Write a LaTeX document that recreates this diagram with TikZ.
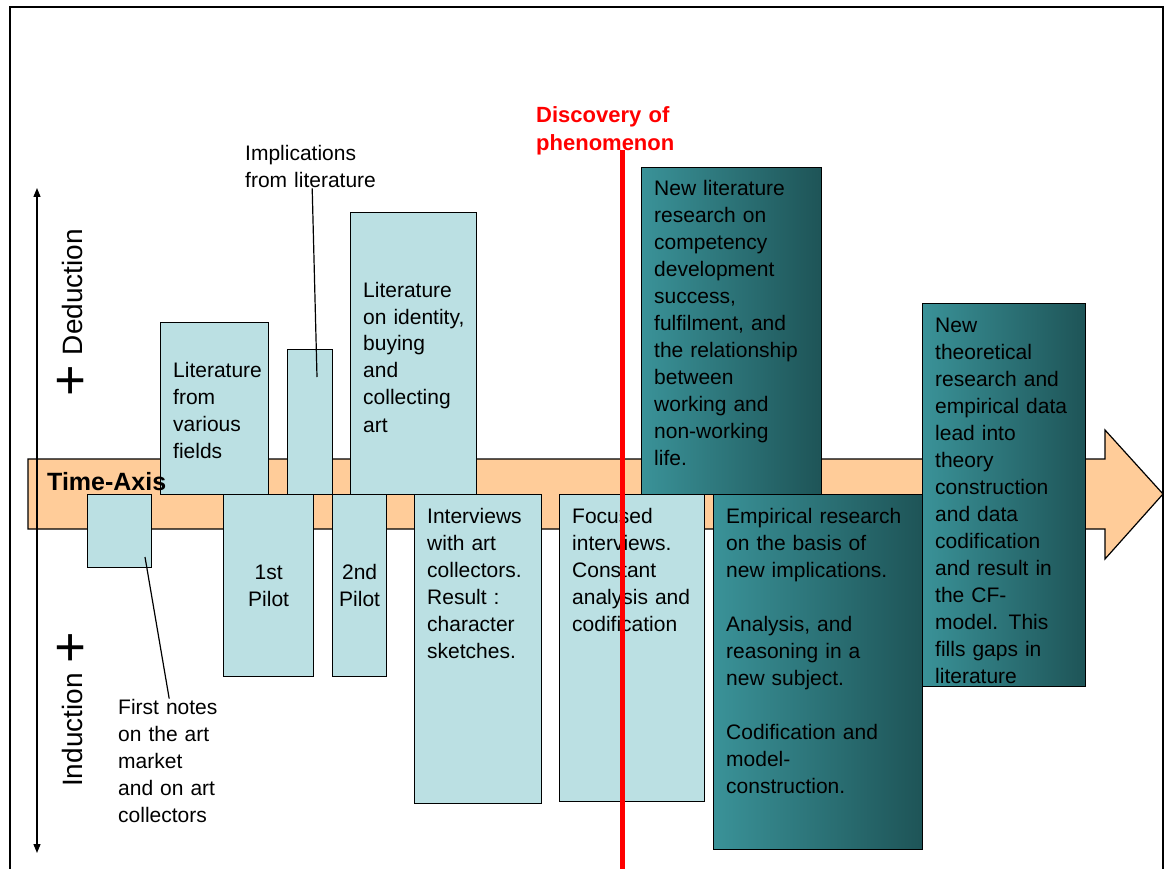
\documentclass[tikz,border=0pt]{standalone}
\usepackage{fontspec}
\setmainfont{Liberation Sans}
\usetikzlibrary{arrows.meta, positioning}
\definecolor{bandorange}{RGB}{255,204,153}
\definecolor{paleblue}{RGB}{187,224,227}
\definecolor{tealleft}{RGB}{58,146,152}
\definecolor{tealright}{RGB}{30,84,87}
\hyphenpenalty=10000

\begin{document}
\begin{tikzpicture}[
    x=1pt, y=-1pt,
    frame/.style={line width=1.3pt},
    band/.style={draw, fill=bandorange, line width=1.2pt},
    lbox/.style={rectangle, draw, fill=paleblue, line width=1.2pt, anchor=north west, inner sep=0pt},
    dbox/.style={rectangle, draw, left color=tealleft, right color=tealright, line width=1.2pt, anchor=north west, inner sep=0pt},
    txt/.style={anchor=base west, align=left, inner sep=0pt, text width=190pt, font=\fontsize{21}{27}\selectfont},
    pilot/.style={lbox, align=center, font=\fontsize{21}{27}\selectfont},
    axlbl/.style={rotate=90, inner sep=0pt, font=\fontsize{28}{32}\selectfont},
    plus/.style={rotate=90, inner sep=0pt, font=\fontsize{54}{54}\selectfont},
    axisarrow/.style={<->, >={Triangle[length=9pt, width=7pt]}, line width=1.3pt},
    pointer/.style={line width=1.2pt},
    redline/.style={red, line width=5pt}
]

\useasboundingbox (0,0) rectangle (1170,869);

% Frame
\draw[frame] (10,869) |- (1163,7) -- (1163,869);

% Time axis
\draw[band] (28,459) -- (1105,459) -- (1105,430) -- (1163,494) -- (1105,559) -- (1105,529) -- (28,529) -- cycle;

% Deduction / induction axis
\coordinate (axtop) at (37,188);
\coordinate (axbot) at (37,853);
\draw[axisarrow] (axbot) -- (axtop);
\node[axlbl] (ded) at (72,292) {Deduction};
\node[plus] (dedplus) at (73,381) {+};
\node[axlbl] (ind) at (72,730) {Induction};
\node[plus] (indplus) at (73,648) {+};

% Boxes
\node[lbox, minimum width=64pt, minimum height=73pt] (notesbox) at (87,494) {};
\node[lbox, minimum width=108pt, minimum height=172pt] (litfld) at (160,322) {};
\node[lbox, minimum width=45pt, minimum height=145pt] (implbox) at (287,349) {};
\node[pilot, minimum width=90pt, minimum height=182pt] (pilot1) at (223,494) {1st\\Pilot};
\node[pilot, minimum width=54pt, minimum height=182pt] (pilot2) at (332,494) {2nd\\Pilot};
\node[lbox, minimum width=126pt, minimum height=282pt] (litid) at (350,212) {};
\node[lbox, minimum width=127pt, minimum height=309pt] (intv) at (414,494) {};
\node[lbox, minimum width=145pt, minimum height=307pt] (focus) at (559,494) {};
\node[dbox, minimum width=180pt, minimum height=327pt] (newlit) at (641,167) {};
\node[dbox, minimum width=209pt, minimum height=355pt] (empir) at (713,494) {};
\node[dbox, minimum width=163pt, minimum height=383pt] (newtheo) at (922,303) {};

% Box texts
\node[txt] (litfld-t) at (173,377) {Literature\\from\\various\\fields};
\node[txt] (litid-t) at (363,297) {Literature\\on identity,\\buying\\and\\collecting\\art};
\node[txt] (intv-t) at (427,523) {Interviews\\with art\\collectors.\\Result :\\character\\sketches.};
\node[txt] (focus-t) at (572,523) {Focused\\interviews.\\Constant\\analysis and\\codification};
\node[txt] (newlit-t) at (654,196) {New literature\\research on\\competency\\development\\success,\\fulfilment, and\\the relationship\\between\\working and\\non-working\\life.};
\node[txt] (empir-t) at (726,523) {Empirical research\\on the basis of\\new implications.\\[27pt]Analysis, and\\reasoning in a\\new subject.\\[27pt]Codification and\\model-\\construction.};
\node[txt] (newtheo-t) at (935,332) {New\\theoretical\\research and\\empirical data\\lead into\\theory\\construction\\and data\\codification\\and result in\\the CF-\\model. This\\fills gaps in\\literature};

% Free notes and pointers
\node[txt, text width=134pt] (impl) at (245,161) {Implications\\from literature};
\node[txt, text width=102pt] (notes) at (118,714) {First notes\\on the art\\market\\and on art\\collectors};
\coordinate (implend) at (317,377);
\coordinate (notesptr) at (145,557);
\draw[pointer] (impl.south) -- (implend);
\draw[pointer] (notesptr) -- (notes.north);

\node[anchor=base west, inner sep=0pt, font=\fontsize{25}{30}\selectfont\bfseries] (timeaxis) at (47,490) {Time-Axis};

% Discovery
\node[txt, text=red, font=\fontsize{22}{28}\selectfont\bfseries] (discovery) at (536,123) {Discovery of\\phenomenon};
\coordinate (redtop) at (622,150);
\coordinate (redbot) at (622,869);
\draw[redline] (redtop) -- (redbot);

\end{tikzpicture}
\end{document}
